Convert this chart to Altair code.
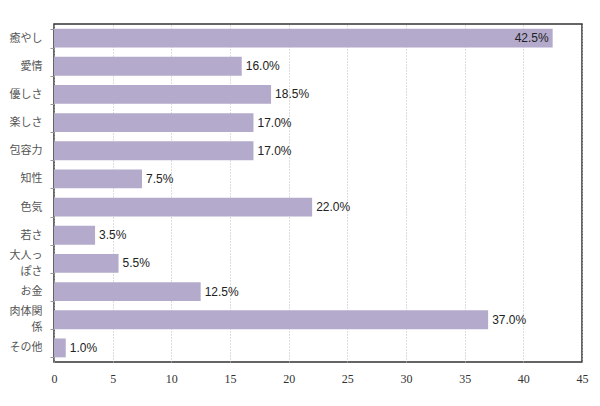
import altair as alt
import pandas as pd

categories = ["癒やし", "愛情", "優しさ", "楽しさ", "包容力", "知性", "色気", "若さ",
              "大人っ\nぽさ", "お金", "肉体関\n係", "その他"]
values = [42.5, 16.0, 18.5, 17.0, 17.0, 7.5, 22.0, 3.5, 5.5, 12.5, 37.0, 1.0]
x_ticks = [0, 5, 10, 15, 20, 25, 30, 35, 40, 45]

df = pd.DataFrame({"cat": categories, "v": values})

BAR = "#b4aacb"

y_enc = alt.Y("cat:N", sort=categories, title=None,
              scale=alt.Scale(paddingInner=0.33, paddingOuter=0.165),
              axis=alt.Axis(labelExpr="split(datum.label, '\\n')",
                            labelFont="Noto Sans CJK JP", labelFontSize=11,
                            labelColor="#555", labelLineHeight=16,
                            labelOffset={"condition": {"test": "indexof(datum.label, '\\n') >= 0",
                                                       "value": -8},
                                         "value": 0},
                            labelPadding=8, tickBand="extent", tickSize=4,
                            tickColor="#999", domain=False, grid=False))
x_enc = alt.X("v:Q", title=None,
              scale=alt.Scale(domain=[0, 45], nice=False, zero=True),
              axis=alt.Axis(values=x_ticks, labelFont="Liberation Serif",
                            labelFontSize=12, labelColor="#333",
                            labelPadding=11, labelFlush=False, ticks=False,
                            domain=False,
                            grid=True, gridColor="#bbbbbb", gridDash=[1, 2],
                            gridWidth=1))

base = alt.Chart(df).transform_calculate(
    label="format(datum.v, '.1f') + '%'"
)

bars = base.mark_bar(color=BAR).encode(x=x_enc, y=y_enc)

txt_out = base.transform_filter("datum.v < 40").mark_text(
    align="left", baseline="middle", dx=4, font="Liberation Sans",
    fontSize=12, color="#222").encode(
    x="v:Q", y=alt.Y("cat:N", sort=categories), text="label:N")

txt_in = base.transform_filter("datum.v >= 40").mark_text(
    align="right", baseline="middle", dx=-4, font="Liberation Sans",
    fontSize=12, color="#222").encode(
    x="v:Q", y=alt.Y("cat:N", sort=categories), text="label:N")

chart = alt.layer(bars, txt_out, txt_in).properties(
    width=528, height=338,
    background="white",
    padding={"left": 46, "top": 16, "right": 10, "bottom": 30},
    autosize=alt.AutoSizeParams(type="none"),
).configure_view(stroke="#333333", strokeWidth=1.5)

chart.save("out.html", embed_options={"renderer": "svg", "actions": False})
